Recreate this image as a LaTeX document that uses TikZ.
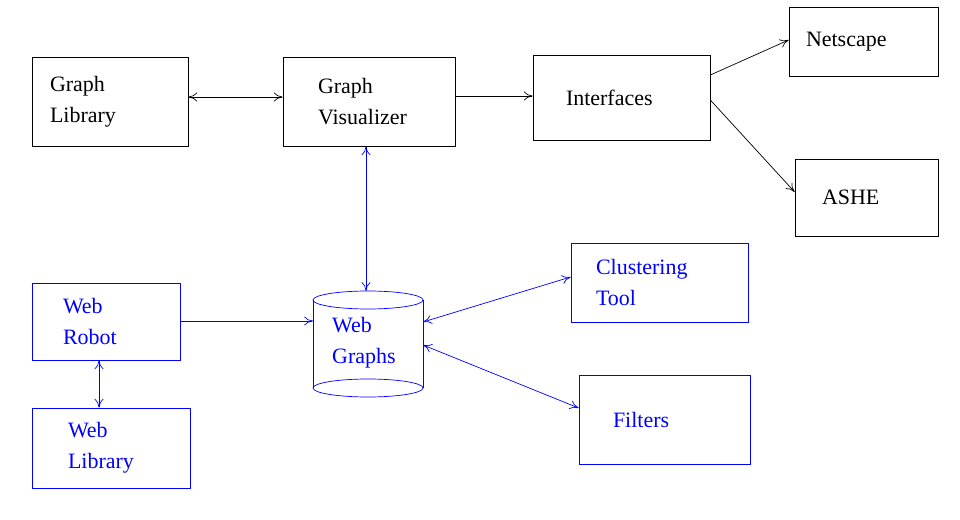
\documentclass[tikz,border=0pt]{standalone}
\usepackage{fontspec}
\setmainfont{Liberation Serif}
\usetikzlibrary{arrows.meta}
\definecolor{webblue}{RGB}{0,0,255}
\tikzset{
  box/.style={draw, rectangle, align=left, inner ysep=0pt,
    font=\fontsize{12.5}{17.5}\selectfont},
  conn/.style={{To[length=5pt,width=5pt]}-{To[length=5pt,width=5pt]}},
  oneway/.style={-{To[length=5pt,width=5pt]}}
}
\begin{document}
\begin{tikzpicture}[x=0.02cm, y=-0.02cm]
  \useasboundingbox (0,0) rectangle (960,520);

  % Black part: the viewer side
  \node[box, text width=2.4cm, inner xsep=0.36cm, minimum height=1.78cm] (glib) at (110,101.5) {Graph\\Library};
  \node[box, text width=2.04cm, inner xsep=0.7cm, minimum height=1.78cm] (gvis) at (369,101.5) {Graph\\Visualizer};
  \node[box, text width=2.22cm, inner xsep=0.66cm, minimum height=1.7cm] (iface) at (621.5,97.5) {Interfaces};
  \node[box, text width=2.3cm, inner xsep=0.34cm, minimum height=1.38cm] (nscape) at (863.5,41.5) {Netscape};
  \node[box, text width=1.78cm, inner xsep=0.54cm, minimum height=1.54cm] (ashe) at (866.5,197.5) {ASHE};

  \draw[conn] (glib.east |- 0,97) -- (gvis.west |- 0,97);
  \draw[oneway] (gvis.east |- 0,96) -- (iface.west |- 0,96);
  \draw[oneway] (iface.east |- 0,75) -- (nscape.west |- 0,40);
  \draw[oneway] (iface.east |- 0,100) -- (ashe.west |- 0,192);

  % Blue part: the web side
  \begin{scope}[webblue]
    \node[box, text width=2.54cm, inner xsep=0.5cm, minimum height=1.58cm] (clus) at (659.5,282.5) {Clustering\\Tool};
    \node[box, text width=2.06cm, inner xsep=0.68cm, minimum height=1.78cm] (filt) at (664.5,419.5) {Filters};
    \node[box, text width=1.72cm, inner xsep=0.62cm, minimum height=1.54cm] (wrobot) at (106,321.5) {Web\\Robot};
    \node[box, text width=1.72cm, inner xsep=0.72cm, minimum height=1.6cm] (wlib) at (111,448) {Web\\Library};

    % the database cylinder
    \draw (313,300) -- (313,388);
    \draw (423,300) -- (423,388);
    \draw (368,300) ellipse [x radius=55, y radius=9];
    \draw (368,388) ellipse [x radius=55, y radius=9];
    \node[font=\fontsize{12.5}{17.5}\selectfont, align=left, anchor=west] (wgraphs) at (326,343) {Web\\Graphs};
    \coordinate (wgtop) at (366,291);
    \coordinate (wgleft) at (313,321);
    \coordinate (wgr1) at (423,322);
    \coordinate (wgr2) at (423,345);

    \draw[conn] (gvis.south -| wgtop) -- (wgtop);
    \draw[oneway] (wrobot.east |- wgleft) -- (wgleft);
    \draw[conn] (wrobot.south -| 99,0) -- (wlib.north -| 99,0);
    \draw[conn] (wgr1) -- (clus.west |- 0,277);
    \draw[conn] (wgr2) -- (filt.west |- 0,408);
  \end{scope}
\end{tikzpicture}
\end{document}
